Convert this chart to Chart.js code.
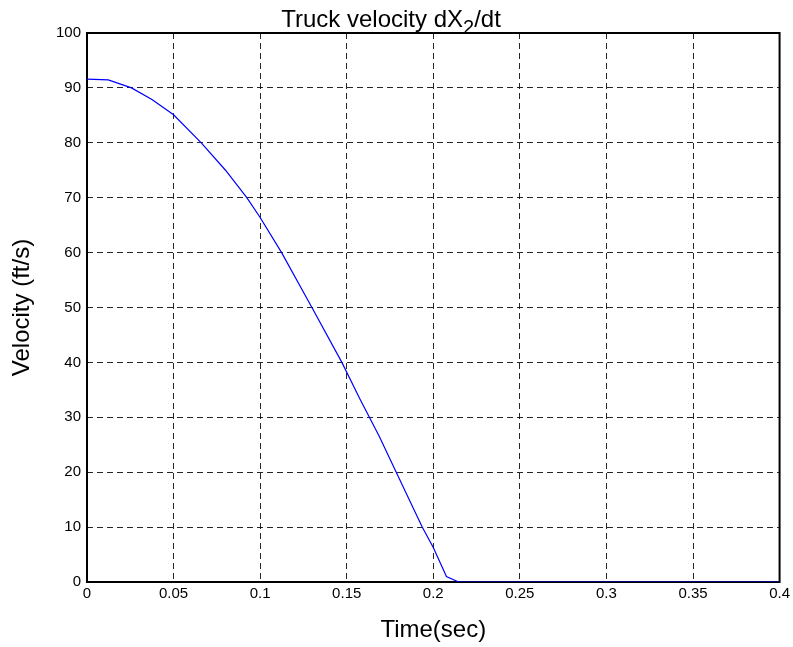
<!DOCTYPE html>
<html>
<head>
<meta charset="utf-8">
<script src="https://cdn.jsdelivr.net/npm/chart.js@4/dist/chart.umd.min.js"></script>
<style>
  html, body { margin: 0; padding: 0; background: #ffffff; }
  #wrap { width: 793px; height: 647px; position: relative; }
</style>
</head>
<body>
<div id="wrap"><canvas id="chart" width="793" height="647"></canvas></div>
<script>
// Truck velocity over time (simulation output)
const timeSec = [0, 0.0123, 0.0257, 0.0375, 0.05, 0.066, 0.08, 0.0923, 0.1, 0.1124, 0.1299,
                 0.1472, 0.1577, 0.1687, 0.1786, 0.1936, 0.2, 0.2076, 0.2147, 0.4];
const velocityFtS = [91.6, 91.45, 90, 87.9, 85.1, 80, 75.0, 70, 66.4, 60, 50,
                     40, 33.3, 26.6, 20, 10, 6.3, 1.0, 0, 0];
const xTickLabels = ['0', '0.05', '0.1', '0.15', '0.2', '0.25', '0.3', '0.35', '0.4'];
const yTickLabels = ['0', '10', '20', '30', '40', '50', '60', '70', '80', '90', '100'];

const FONT = 'Arial, "Liberation Sans", Helvetica, sans-serif';

// Title with a subscripted "2"
const titlePlugin = {
  id: 'subTitle',
  afterDraw(chart) {
    const ctx = chart.ctx;
    const parts = [
      { t: 'Truck velocity dX', size: 24, dy: 0 },
      { t: '2', size: 20, dy: 7 },
      { t: '/dt', size: 24, dy: 0 }
    ];
    ctx.save();
    ctx.fillStyle = '#000';
    ctx.textBaseline = 'alphabetic';
    ctx.textAlign = 'left';
    let total = 0;
    parts.forEach(p => { ctx.font = p.size + 'px ' + FONT; p.w = ctx.measureText(p.t).width; total += p.w; });
    let x = 391 - total / 2;
    const base = 27;
    parts.forEach(p => {
      ctx.font = p.size + 'px ' + FONT;
      ctx.fillText(p.t, x, base + p.dy);
      x += p.w;
    });
    ctx.restore();
  }
};

// Solid box around the plotting area
const framePlugin = {
  id: 'frame',
  beforeDatasetsDraw(chart) {
    const { left, right, top, bottom } = chart.chartArea;
    const ctx = chart.ctx;
    ctx.save();
    ctx.strokeStyle = '#000';
    ctx.lineWidth = 2;
    ctx.setLineDash([]);
    ctx.strokeRect(left, top, right - left, bottom - top);
    ctx.restore();
  }
};

new Chart(document.getElementById('chart'), {
  type: 'scatter',
  data: {
    datasets: [{
      data: timeSec.map((t, i) => ({ x: t, y: velocityFtS[i] })),
      showLine: true,
      borderColor: '#0000ff',
      borderWidth: 1.2,
      pointRadius: 0,
      tension: 0,
      fill: false
    }]
  },
  options: {
    responsive: false,
    animation: false,
    devicePixelRatio: 1,
    layout: { padding: { top: 33, right: 11, left: 0, bottom: 0 } },
    plugins: { legend: { display: false }, tooltip: { enabled: false }, title: { display: false } },
    scales: {
      x: {
        type: 'linear',
        min: 0, max: 0.4,
        afterFit(scale) { scale.height = 65; },
        afterBuildTicks(scale) {
          scale.ticks = xTickLabels.map(s => ({ value: parseFloat(s) }));
        },
        ticks: {
          color: '#000',
          font: { family: FONT, size: 15 },
          padding: 3,
          maxRotation: 0,
          autoSkip: false,
          callback: (v, i) => xTickLabels[i]
        },
        grid: {
          color: 'rgba(0,0,0,0.85)',
          lineWidth: 1,
          drawTicks: false,
          tickLength: 0
        },
        border: { display: false, dash: [6, 4] },
        title: {
          display: true,
          text: 'Time(sec)',
          color: '#000',
          font: { family: FONT, size: 24 },
          padding: { top: 0, bottom: 2 }
        }
      },
      y: {
        type: 'linear',
        min: 0, max: 100,
        afterFit(scale) { scale.width = 87; },
        afterBuildTicks(scale) {
          scale.ticks = yTickLabels.map(s => ({ value: parseFloat(s) }));
        },
        ticks: {
          color: '#000',
          font: { family: FONT, size: 15 },
          padding: 6,
          autoSkip: false,
          callback: (v, i) => yTickLabels[i]
        },
        grid: {
          color: 'rgba(0,0,0,0.85)',
          lineWidth: 1,
          drawTicks: false,
          tickLength: 0
        },
        border: { display: false, dash: [6, 4] },
        title: {
          display: true,
          text: 'Velocity (ft/s)',
          color: '#000',
          font: { family: FONT, size: 24 },
          padding: { top: 8, bottom: 0 }
        }
      }
    }
  },
  plugins: [framePlugin, titlePlugin]
});
</script>
</body>
</html>
